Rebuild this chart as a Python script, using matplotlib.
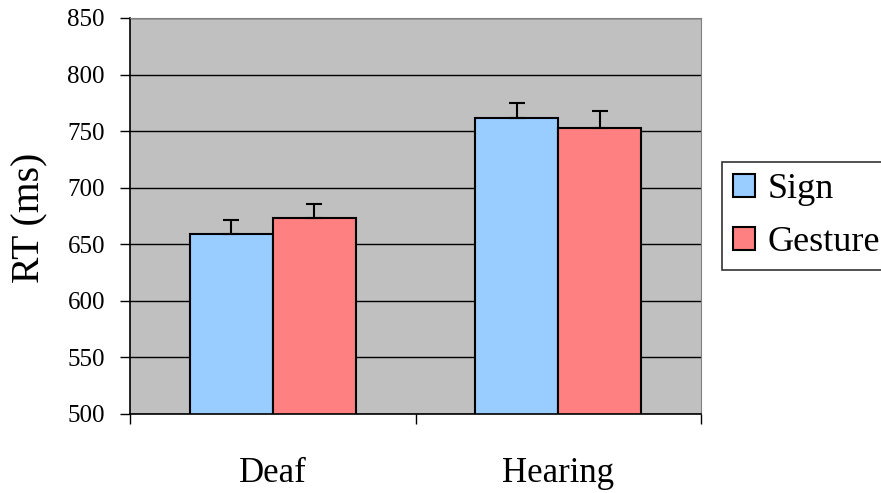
import numpy as np
import matplotlib.pyplot as plt

# 資料
groups = ['Deaf', 'Hearing']
series = ['Sign', 'Gesture']
sign_rt = [659, 762]
gesture_rt = [673, 753]
sign_err = [12.5, 13]
gesture_err = [13, 14.5]

colors = ['#99CCFF', '#FF8080']

plt.rcParams['font.family'] = ['Liberation Serif', 'DejaVu Serif']

fig = plt.figure(figsize=(8.81, 4.93), dpi=100)
ax = fig.add_axes([130/881, 1-414/493, 571/881, 396/493])
ax.set_facecolor('#C0C0C0')

x = np.arange(len(groups))
w = 0.29
ax.bar(x - w/2, sign_rt, w, color=colors[0], edgecolor='black', linewidth=1.5,
       label=series[0], zorder=2)
ax.bar(x + w/2, gesture_rt, w, color=colors[1], edgecolor='black', linewidth=1.5,
       label=series[1], zorder=2)
# 誤差線只畫上方
ax.errorbar(x - w/2, sign_rt, yerr=[np.zeros(2), sign_err], fmt='none',
            ecolor='black', elinewidth=1.5, capsize=6, capthick=1.5, zorder=3)
ax.errorbar(x + w/2, gesture_rt, yerr=[np.zeros(2), gesture_err], fmt='none',
            ecolor='black', elinewidth=1.5, capsize=6, capthick=1.5, zorder=3)

ax.set_ylim(500, 850)
ax.set_yticks(np.arange(500, 851, 50))
ax.set_xlim(-0.5, 1.5)
ax.yaxis.grid(True, color='black', linewidth=1)
ax.set_axisbelow(True)

# 類別刻度在邊界，標籤在中間
ax.set_xticks([-0.5, 0.5, 1.5])
ax.set_xticklabels([])
ax.set_xticks(x, minor=True)
ax.set_xticklabels(groups, minor=True, fontsize=25)
ax.tick_params(axis='x', which='major', direction='out', length=7, width=1)
ax.tick_params(axis='x', which='minor', length=0, pad=31)
ax.tick_params(axis='y', direction='out', length=7, width=1, labelsize=18, pad=11)

for s in ['top', 'right']:
    ax.spines[s].set_color('#808080')
for s in ['left', 'bottom']:
    ax.spines[s].set_color('black')
    ax.spines[s].set_linewidth(1.2)

fig.text(30/881, 1-218/493, 'RT (ms)', rotation=90, fontsize=28.5,
         ha='center', va='center')

leg = fig.legend(loc='upper left', bbox_to_anchor=(722/881, 1-162/493),
                 fontsize=26, frameon=True, fancybox=False, edgecolor='black',
                 handlelength=0.61, handleheight=0.61, handletextpad=0.36,
                 borderpad=0.3, labelspacing=0.57, borderaxespad=0)
leg.get_frame().set_linewidth(1.2)

fig.savefig('out.png', dpi=100)
